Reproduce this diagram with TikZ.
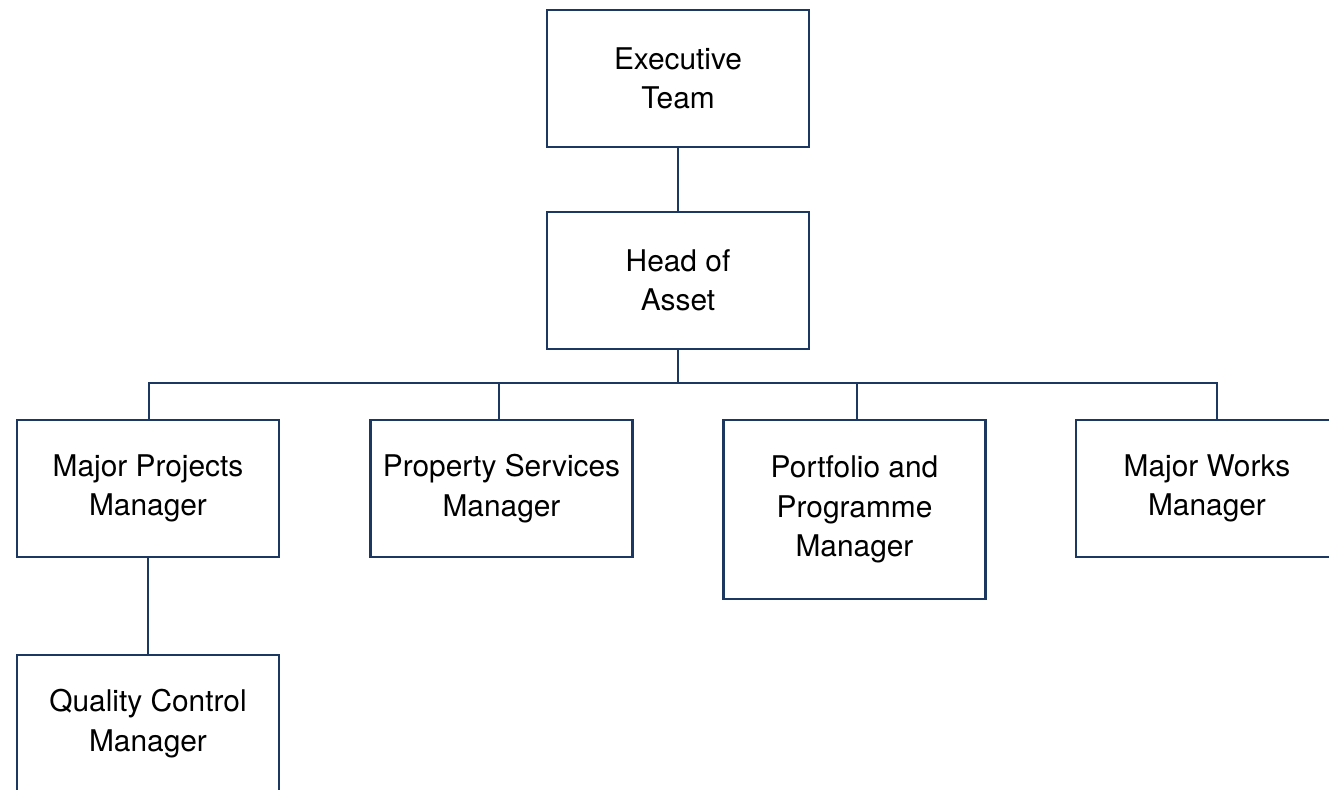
\documentclass[tikz,border=0pt]{standalone}
\usepackage{fontspec}
\setmainfont{TeX Gyre Heros}
\usetikzlibrary{positioning,calc}
\definecolor{navy}{RGB}{28,55,96}

\begin{document}
\begin{tikzpicture}[x=0.02cm,y=-0.02cm,
  font=\fontsize{17}{22.5}\selectfont,
  role/.style={rectangle,draw=navy,line width=1.3pt,fill=white,minimum width=5.24cm,
               minimum height=2.74cm,align=center,inner sep=0},
  tall/.style={role,minimum height=3.58cm},
  link/.style={line width=1.3pt,navy}]

\clip (0,0) rectangle (1329,789);
\useasboundingbox (0,0) rectangle (1329,789);

%% top of the chart
\node[role] (exec) at (678,78.5) {Executive\\Team};
\node[role] (head) at (678,280.5) {Head of\\Asset};

%% managers reporting to the head of asset
\node[role] (mpm) at (148,488.5) {Major Projects\\Manager};
\node[role] (psm) at (501.5,488.5) {Property Services\\Manager};
\node[tall] (ppm) at (854.5,509.5) {Portfolio and\\Programme\\Manager};
\node[role] (mwm) at (1207,488.5) {Major Works\\Manager};
\node[role] (qcm) at (148,723.5) {Quality Control\\Manager};

%% connectors
\coordinate (bus) at (678,383);
\draw[link] (exec.south) -- (head.north);
\draw[link] (head.south) -- (bus);
\foreach \n/\dx in {mpm/1, psm/-2.5, ppm/2.5, mwm/10}
  \draw[link] (bus) -| ([xshift=\dx*0.02cm]\n.north);
\draw[link] (mpm.south) -- (qcm.north);
\end{tikzpicture}
\end{document}
